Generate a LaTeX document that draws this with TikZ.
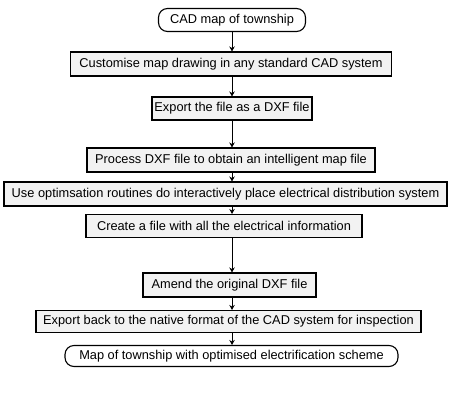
\documentclass[tikz,border=0pt]{standalone}
\usepackage{fontspec}
\setmainfont{Liberation Sans}
\usetikzlibrary{arrows.meta}
\begin{document}
\begin{tikzpicture}[x=1pt,y=-1pt,
  box/.style={draw,line width=1.1pt,fill=black!5,inner sep=0pt,font=\fontsize{12.8}{14}\selectfont},
  term/.style={box,fill=white,rounded corners=9pt},
  arr/.style={line width=1pt,-{Stealth[length=5pt,width=5.5pt]}}]
\useasboundingbox (0,0) rectangle (455,394);
\node[term,minimum width=147pt,minimum height=23pt] (n1) at (232,20) {CAD map of township};
\node[box,minimum width=321pt,minimum height=24pt] (n2) at (231,64) {Customise map drawing in any standard CAD system};
\node[box,minimum width=160pt,minimum height=23pt] (n3) at (232,108.5) {Export the file as a DXF file};
\node[box,minimum width=288pt,minimum height=24pt] (n4) at (231,160) {Process DXF file to obtain an intelligent map file};
\node[box,minimum width=443pt,minimum height=24pt] (n5) at (225.5,194) {Use optimsation routines do interactively place electrical distribution system};
\node[box,minimum width=276pt,minimum height=23pt] (n6) at (224,226) {Create a file with all the electrical information};
\node[box,minimum width=173pt,minimum height=24pt] (n7) at (229.5,285) {Amend the original DXF file};
\node[box,minimum width=385pt,minimum height=22pt] (n8) at (228.5,321.5) {Export back to the native format of the CAD system for inspection};
\node[term,minimum width=333pt,minimum height=21pt] (n9) at (231.5,356) {Map of township with optimised electrification scheme};
\foreach \a/\b in {n1/n2,n2/n3,n3/n4,n4/n5,n5/n6,n6/n7,n7/n8,n8/n9}
  \draw[arr] (\a.south -| n1.south) -- (\b.north -| n1.south);
\end{tikzpicture}
\end{document}
